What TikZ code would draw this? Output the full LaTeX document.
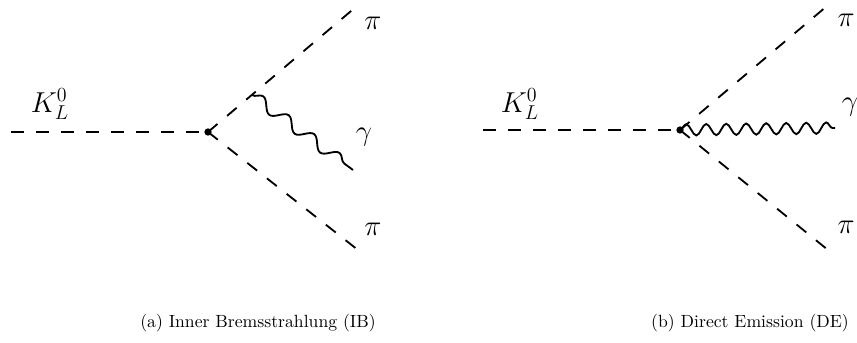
\documentclass[tikz,border=0pt]{standalone}
\usetikzlibrary{decorations.pathmorphing}
\begin{document}
\begin{tikzpicture}[x=0.6pt,y=-0.6pt,
  scalar/.style={line width=1.1pt,dash pattern=on 7.5pt off 7.5pt},
  photon/.style={line width=1.1pt,decorate,decoration={snake,segment length=#1,amplitude=3.4pt}},
  vtx/.style={circle,fill,inner sep=0pt,minimum size=4.4pt},
  lbl/.style={font=\fontsize{17}{20}\selectfont},
  captxt/.style={font=\fontsize{10.6}{13}\selectfont}]
\useasboundingbox (0,0) rectangle (857,343);
% panel (a)
\node[vtx] (v1) at (208,132) {};
\coordinate (a1) at (11,132);
\coordinate (u1) at (357,6);
\coordinate (d1) at (358,250);
\coordinate (g1s) at (252,95);
\coordinate (g1e) at (353,170);
\draw[scalar] (a1) -- (v1.center);
\draw[scalar] (v1.center) -- (u1);
\draw[scalar] (v1.center) -- (d1);
\draw[photon=19pt] (g1s) -- (g1e);
\node[lbl] (k1) at (50,104) {$K_L^0$};
\node[lbl] (p1u) at (373,23) {$\pi$};
\node[lbl] (g1) at (364,137) {$\gamma$};
\node[lbl] (p1d) at (373,229) {$\pi$};
\node[captxt] (c1) at (258,323) {(a) Inner Bremsstrahlung (IB)};
% panel (b)
\node[vtx] (v2) at (680,130) {};
\coordinate (a2) at (483,130);
\coordinate (u2) at (827,6);
\coordinate (d2) at (828,250);
\coordinate (g2e) at (835,128);
\draw[scalar] (a2) -- (v2.center);
\draw[scalar] (v2.center) -- (u2);
\draw[scalar] (v2.center) -- (d2);
\draw[photon=12pt] (v2.center) -- (g2e);
\node[lbl] (k2) at (520,104) {$K_L^0$};
\node[lbl] (p2u) at (846,20) {$\pi$};
\node[lbl] (g2) at (850,107) {$\gamma$};
\node[lbl] (p2d) at (846,227) {$\pi$};
\node[captxt] (c2) at (750,323) {(b) Direct Emission (DE)};
\end{tikzpicture}
\end{document}
